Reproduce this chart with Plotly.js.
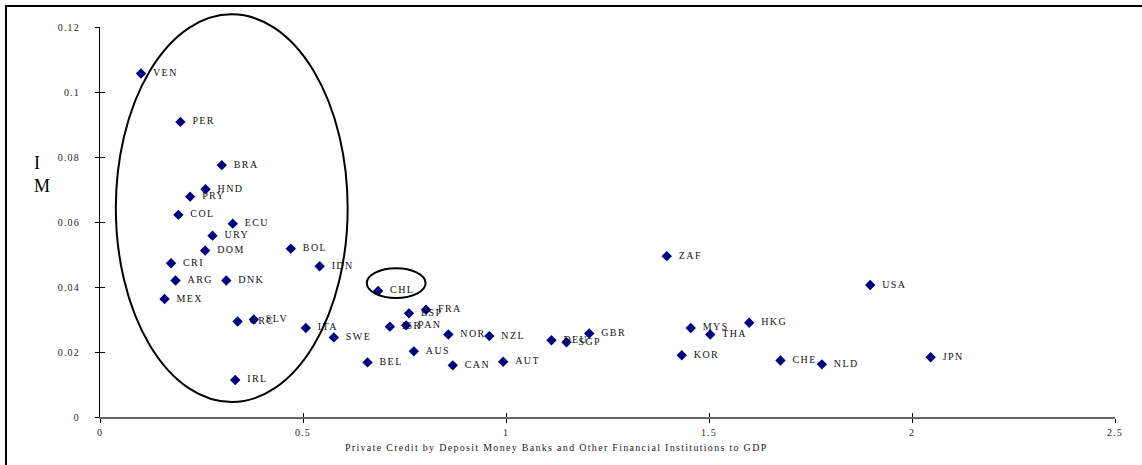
<!DOCTYPE html>
<html>
<head>
<meta charset="utf-8">
<script src="https://cdn.plot.ly/plotly-3.0.1.min.js"></script>
<style>
  html, body { margin: 0; padding: 0; background: #fff; overflow: hidden; }
  #chart { width: 1142px; height: 465px; }
  .textpoint text { letter-spacing: 1.4px; transform: translateX(6px); }
  .xtick text, .ytick text { letter-spacing: 1.2px; }
  .annotation-text.xtitle { letter-spacing: 1.3px; }
</style>
</head>
<body>
<div id="chart"></div>
<script>
// Country codes
const countries = ["VEN","PER","BRA","HND","PRY","COL","ECU","URY","DOM","BOL","CRI","IDN",
  "ARG","DNK","MEX","CHL","SLV","GRC","ITA","SWE","BEL","IRL","ZAF","FRA","ESP","ISR","PAN",
  "NOR","NZL","DEU","SGP","GBR","MYS","THA","KOR","AUS","CAN","AUT","USA","HKG","CHE","NLD","JPN"];
// Private credit by deposit money banks and other financial institutions to GDP
const privateCredit = [0.101,0.198,0.300,0.260,0.222,0.193,0.327,0.277,0.259,0.470,0.175,0.541,
  0.186,0.311,0.159,0.685,0.379,0.339,0.507,0.576,0.659,0.333,1.396,0.803,0.761,0.714,0.754,
  0.858,0.959,1.112,1.149,1.205,1.455,1.503,1.433,0.773,0.869,0.993,1.897,1.599,1.676,1.778,2.046];
// IM
const imValues = [0.1057,0.0908,0.0775,0.0701,0.0678,0.0622,0.0595,0.0558,0.0512,0.0518,0.0473,0.0464,
  0.0420,0.0420,0.0363,0.0388,0.0300,0.0294,0.0274,0.0245,0.0168,0.0114,0.0495,0.0330,0.0319,0.0278,0.0282,
  0.0254,0.0249,0.0236,0.0230,0.0257,0.0274,0.0254,0.0190,0.0202,0.0159,0.0170,0.0406,0.0290,0.0174,0.0162,0.0184];

const xRange = [0, 2.5];
const yRange = [0, 0.12];
const xTickStep = 0.5;
const yTickStep = 0.02;
const xTitle = "Private Credit by Deposit Money Banks and Other Financial Institutions to GDP";
const yTitle = "I<br>M";

// Highlight ellipses (in data units)
const bigEllipse = {x0: 0.039, x1: 0.610, y0: 0.0046, y1: 0.1239};
const smallEllipse = {x0: 0.657, x1: 0.802, y0: 0.0366, y1: 0.0458};

const W = 1142, H = 465;
const M = {l: 100, r: 27, t: 27, b: 48};
const plotW = W - M.l - M.r, plotH = H - M.t - M.b;
const px = v => (v - xRange[0]) / (xRange[1] - xRange[0]);
const py = v => (v - yRange[0]) / (yRange[1] - yRange[0]);
// pixel -> paper (for the outer chart frame)
const ppx = p => (p - M.l) / plotW;
const ppy = p => (H - M.b - p) / plotH;

const ellipse = e => ({
  type: 'circle', xref: 'paper', yref: 'paper',
  x0: px(e.x0), x1: px(e.x1), y0: py(e.y0), y1: py(e.y1),
  line: {color: '#000', width: 2}, fillcolor: 'rgba(0,0,0,0)', layer: 'above'
});
const frameLeft = {type: 'line', xref: 'paper', yref: 'paper',
  x0: ppx(6), x1: ppx(6), y0: ppy(5), y1: ppy(H + 10), line: {color: '#000', width: 2}};
const frameTop = {type: 'line', xref: 'paper', yref: 'paper',
  x0: ppx(5), x1: ppx(W + 10), y0: ppy(6), y1: ppy(6), line: {color: '#000', width: 2}};

const tickFont = {family: '"Liberation Serif", "Times New Roman", serif', size: 10, color: '#222'};

const data = [
  {
    type: 'scatter', mode: 'markers+text',
    x: privateCredit, y: imValues, text: countries,
    textposition: 'middle right',
    textfont: {family: '"Liberation Serif", "Times New Roman", serif', size: 10, color: '#111'},
    marker: {symbol: 'diamond', size: 8, color: '#000080'},
    cliponaxis: false, hoverinfo: 'x+y+text', showlegend: false
  },
  { type: 'scatter', x: [], y: [], xaxis: 'x2', yaxis: 'y2', showlegend: false, hoverinfo: 'skip' }
];

const layout = {
  width: W, height: H,
  margin: {l: M.l, r: M.r, t: M.t, b: M.b, pad: 0},
  paper_bgcolor: '#fff', plot_bgcolor: '#fff',
  showlegend: false,
  xaxis: {
    range: xRange, dtick: xTickStep, tick0: 0,
    showgrid: false, zeroline: false,
    showline: true, linecolor: '#666', linewidth: 1.5,
    ticks: 'outside', ticklen: 4, tickcolor: '#000', tickwidth: 1,
    tickfont: tickFont, ticklabelstandoff: 1
  },
  yaxis: {
    range: yRange, dtick: yTickStep, tick0: 0,
    showgrid: false, zeroline: false,
    showline: true, linecolor: '#000', linewidth: 1,
    ticks: 'outside', ticklen: 4, tickcolor: '#000', tickwidth: 1,
    tickfont: tickFont, ticklabelstandoff: 13
  },
  xaxis2: {
    overlaying: 'x', anchor: 'y', side: 'bottom', range: xRange, dtick: xTickStep, tick0: 0,
    showgrid: false, zeroline: false, showline: false, showticklabels: false,
    ticks: 'inside', ticklen: 4, tickcolor: '#000', tickwidth: 1
  },
  yaxis2: {
    overlaying: 'y', anchor: 'x', side: 'left', range: yRange, dtick: yTickStep, tick0: 0,
    showgrid: false, zeroline: false, showline: false, showticklabels: false,
    ticks: 'inside', ticklen: 5, tickcolor: '#000', tickwidth: 1
  },
  shapes: [ellipse(bigEllipse), ellipse(smallEllipse), frameLeft, frameTop],
  annotations: [
    {
      text: yTitle, xref: 'paper', yref: 'paper', x: -0.067, y: py(0.0745),
      xanchor: 'left', yanchor: 'middle', align: 'left', showarrow: false,
      font: {family: '"Liberation Serif", "Times New Roman", serif', size: 18, color: '#000'}
    },
    {
      text: xTitle, xref: 'paper', yref: 'paper', x: 0.4494, y: -0.078,
      xanchor: 'center', yanchor: 'middle', showarrow: false,
      font: {family: '"Liberation Serif", "Times New Roman", serif', size: 10, color: '#222'}
    }
  ]
};

Plotly.newPlot('chart', data, layout, {displayModeBar: false}).then(() => {
  const anns = document.querySelectorAll('.annotation-text');
  if (anns.length > 1) anns[1].classList.add('xtitle');
});
</script>
</body>
</html>
